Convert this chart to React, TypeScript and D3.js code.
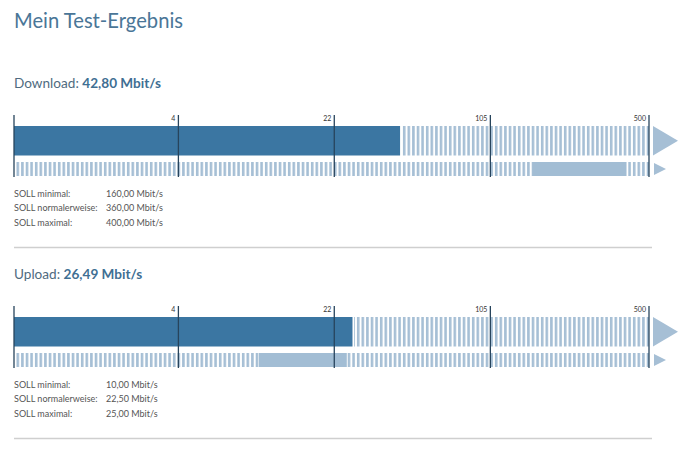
import React from "react";
import * as d3 from "d3";

const title = "Mein Test-Ergebnis";
const tickValues = [0, 4, 22, 105, 500];
const tickLabels = ["", "4", "22", "105", "500"];
const sectionNames = ["Download", "Upload"];
const measured = [42.8, 26.49];
const sollMin = [160, 10];
const sollNormal = [360, 22.5];
const sollMax = [400, 25];
const sollLabels = ["SOLL minimal:", "SOLL normalerweise:", "SOLL maximal:"];

const fmt = (v: number) => v.toFixed(2).replace(".", ",") + " Mbit/s";

const FONT = "Lato, 'Open Sans', sans-serif";
const DARK = "#3b76a2";
const LIGHT = "#a6bfd5";
const TICK = "#27445c";

export default function App() {
  const x = d3.scaleSymlog().constant(1).domain([0, 500]).range([14, 649]);
  const sectionStep = 191;
  return (
    <svg width={678} height={451} style={{ position: "absolute", left: 0, top: 0 }} fontFamily={FONT}>
      <defs>
        <pattern id="stripes" patternUnits="userSpaceOnUse" width={4.6} height={10} x={16.5} y={0}>
          <rect x={0} y={0} width={2.6} height={10} fill={LIGHT} />
        </pattern>
      </defs>
      <rect width={678} height={451} fill="#fff" />
      <text x={14} y={27.5} fontSize={20.2} fill="#4a7697">{title}</text>
      {sectionNames.map((name, i) => {
        const y0 = i * sectionStep;
        const v = measured[i];
        const xEnd = x(500);
        return (
          <g key={name} transform={`translate(0,${y0})`}>
            <text x={14} y={88} fontSize={13.6} fill="#4f6b80">
              {name}: <tspan fontWeight="bold" fill="#3f6f93">{fmt(v)}</tspan>
            </text>
            {/* main row */}
            <rect x={x(0)} y={126} width={x(v) - x(0)} height={29.5} fill={DARK} />
            <rect x={x(v) + 1.5} y={126} width={xEnd - x(v) - 1.5} height={29.5} fill="url(#stripes)" />
            <path d={`M${xEnd + 4},${126} L${xEnd + 29},${140.75} L${xEnd + 4},${155.5} Z`} fill={LIGHT} />
            {/* soll row */}
            <rect x={16} y={162} width={xEnd - 16} height={14} fill="url(#stripes)" />
            <rect x={x(sollMin[i])} y={162} width={x(sollMax[i]) - x(sollMin[i])} height={14} fill="#a2bdd4" />
            <path d={`M${xEnd + 5},${163} L${xEnd + 17},${169} L${xEnd + 5},${175} Z`} fill={LIGHT} />
            {/* ticks */}
            {tickValues.map((t, j) => (
              <g key={t}>
                <line x1={x(t)} x2={x(t)} y1={115} y2={177} stroke={TICK} strokeWidth={1.3} />
                <text x={x(t) - 3} y={121} fontSize={7} textAnchor="end" fill="#333">{tickLabels[j]}</text>
              </g>
            ))}
            {/* soll texts */}
            {[sollMin[i], sollNormal[i], sollMax[i]].map((s, k) => (
              <g key={k}>
                <text x={14} y={196.5 + k * 14.5} fontSize={9} fill="#555">{sollLabels[k]}</text>
                <text x={106} y={196.5 + k * 14.5} fontSize={9} fill="#555">{fmt(s)}</text>
              </g>
            ))}
            <line x1={14} x2={652} y1={247.5} y2={247.5} stroke="#cfcfcf" strokeWidth={1.5} />
          </g>
        );
      })}
    </svg>
  );
}
